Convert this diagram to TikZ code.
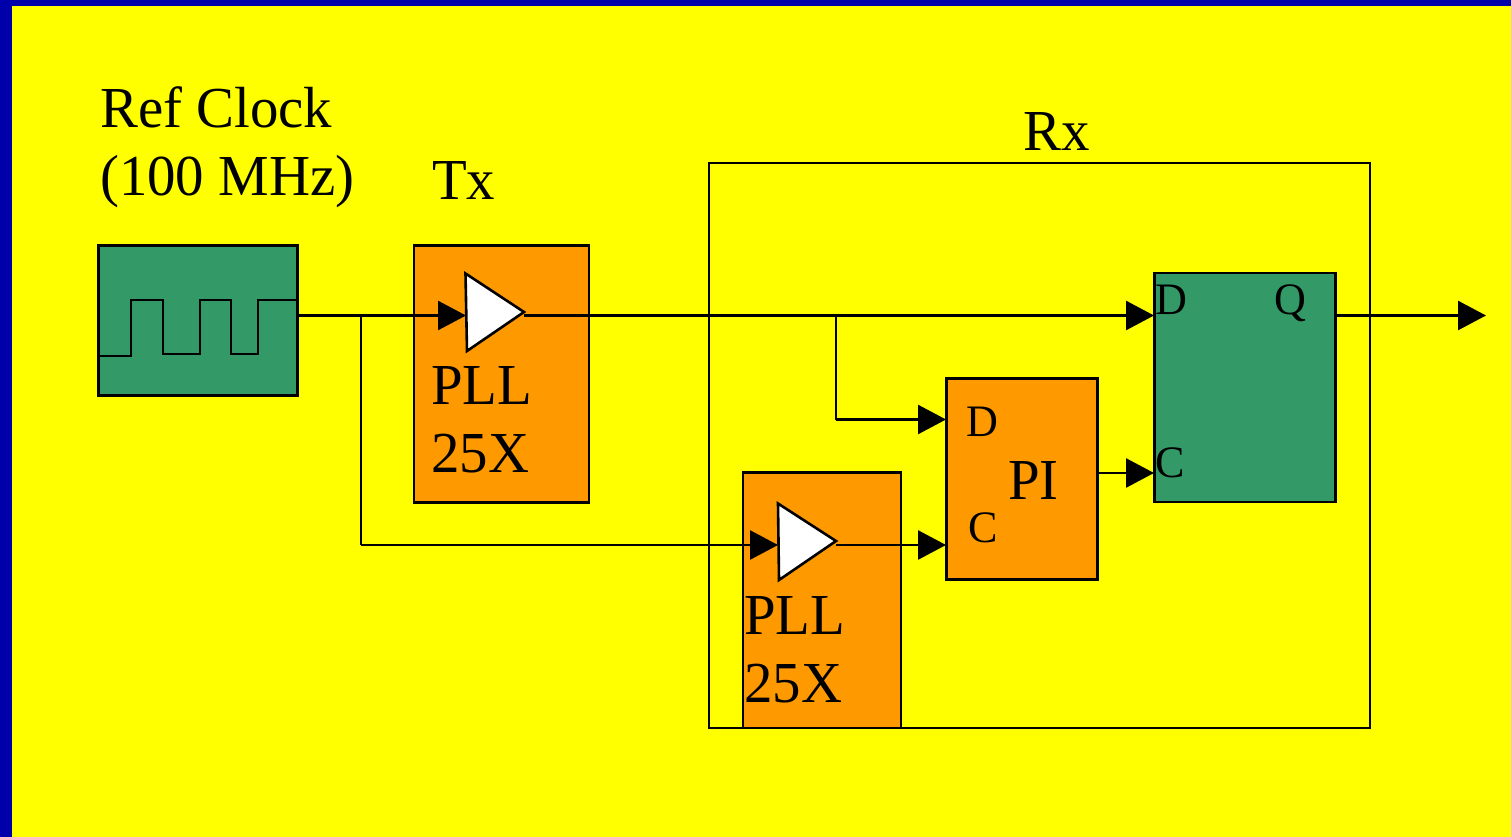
\documentclass[tikz,border=0pt]{standalone}
\usepackage{fontspec}
\setmainfont[FakeStretch=0.98]{Liberation Serif}
\usetikzlibrary{arrows.meta}
\definecolor{bgblue}{HTML}{0000AA}
\definecolor{bgyellow}{HTML}{FFFF00}
\definecolor{boxgreen}{HTML}{339966}
\definecolor{boxorange}{HTML}{FF9900}
\tikzset{
  block/.style={draw=black,line width=2.6pt,inner sep=0pt,outer sep=0pt,anchor=north west},
  greenblock/.style={block,fill=boxgreen},
  orangeblock/.style={block,fill=boxorange},
  biglabel/.style={inner sep=0pt,anchor=base west,font=\fontsize{58}{68}\selectfont},
  smalllabel/.style={inner sep=0pt,anchor=base west,font=\fontsize{45}{54}\selectfont},
  wire/.style={draw=black,line width=2.6pt},
  signal/.style={wire,-{Triangle[length=28pt,width=29pt]}},
  buffer/.style={draw=black,fill=white,line width=2.6pt,line join=miter}
}
\begin{document}
\begin{tikzpicture}[x=1pt,y=-1pt]
\useasboundingbox (0,0) rectangle (1511,837);
\fill[bgblue] (0,0) rectangle (1511,837);
\fill[bgyellow] (12,6) rectangle (1511,837);

% Rx frame
\node[block,minimum width=661pt,minimum height=565pt] (rx) at (709,163) {};

% blocks
\node[greenblock,minimum width=199pt,minimum height=150pt] (clk) at (98.5,245.5) {};
\node[orangeblock,minimum width=175pt,minimum height=257pt] (txpll) at (414,245.5) {};
\node[orangeblock,minimum width=158pt,minimum height=255.5pt] (rxpll) at (743,472.5) {};
\node[orangeblock,minimum width=151pt,minimum height=201pt] (pi) at (946.5,378.5) {};
\node[greenblock,minimum width=181pt,minimum height=229pt] (ff) at (1154.5,273) {};

% clock waveform
\draw[wire,line join=miter] (98,356) -- (131,356) -- (131,300) -- (163,300) -- (163,354) -- (200,354)
  -- (200,300) -- (231,300) -- (231,354) -- (258,354) -- (258,300) -- (297,300);

% named connection points
\coordinate (clkout) at (297,315.5);
\coordinate (split1) at (361,315.5);
\coordinate (bend1) at (361,545);
\coordinate (txin) at (466,315.5);
\coordinate (txout) at (524,315.5);
\coordinate (rxin) at (778,545);
\coordinate (rxout) at (836,545);
\coordinate (split2) at (836,315.5);
\coordinate (bend2) at (836,419.5);
\coordinate (pid) at (946,419.5);
\coordinate (pic) at (946,545);
\coordinate (piout) at (1098,473);
\coordinate (ffd) at (1154,315.5);
\coordinate (ffc) at (1154,473);
\coordinate (ffq) at (1336,315.5);
\coordinate (dataout) at (1486,315.5);

% connectors
\draw[signal] (clkout) -- (txin);
\draw[wire] (split1) -- (bend1);
\draw[signal] (bend1) -- (rxin);
\draw[signal] (txout) -- (ffd);
\draw[wire] (split2) -- (bend2);
\draw[signal] (bend2) -- (pid);
\draw[signal] (rxout) -- (pic);
\draw[signal] (piout) -- (ffc);
\draw[signal] (ffq) -- (dataout);

% buffers
\draw[buffer] (465.5,273.5) -- (524,312) -- (467,351) -- cycle;
\draw[buffer] (778,503.5) -- (836,541) -- (779,580) -- cycle;

% labels
\node[biglabel] (l1) at (100,128) {Ref Clock};
\node[biglabel] (l2) at (100,196) {(100 MHz)};
\node[biglabel] (l3) at (432,200) {Tx};
\node[biglabel] (l4) at (1023,151) {Rx};
\node[biglabel] (l5) at (431,404) {PLL};
\node[biglabel] (l6) at (431,472) {25X};
\node[biglabel] (l7) at (744,634) {PLL};
\node[biglabel] (l8) at (744,702) {25X};
\node[biglabel] (l9) at (1008,499) {PI};
\node[smalllabel] (d1) at (1155,314) {D};
\node[smalllabel] (q1) at (1274,314) {Q};
\node[smalllabel] (c1) at (1155,477) {C};
\node[smalllabel] (d2) at (966,436) {D};
\node[smalllabel] (c2) at (968,542) {C};
\end{tikzpicture}
\end{document}
